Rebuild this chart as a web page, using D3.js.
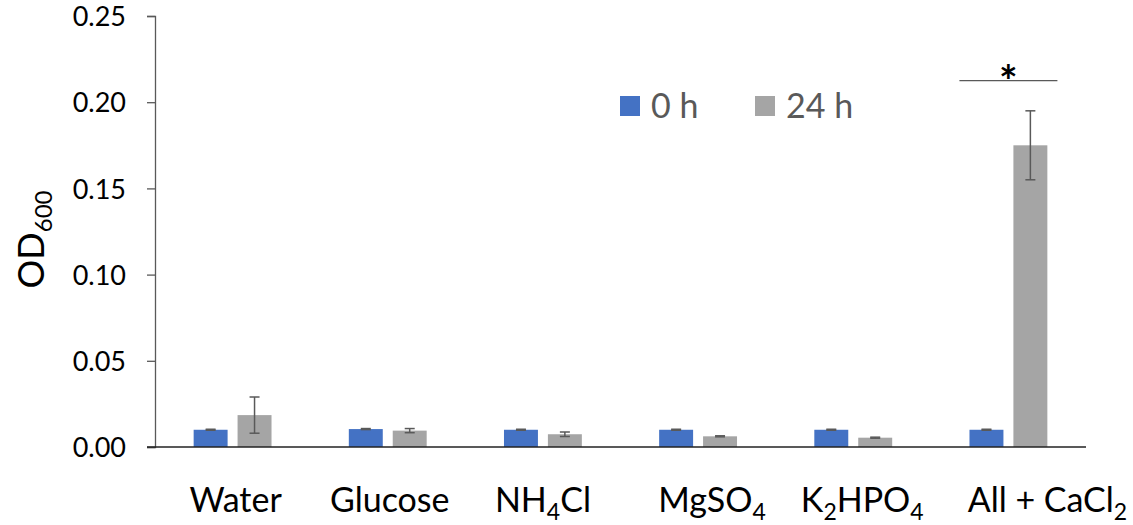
<!DOCTYPE html>
<html>
<head>
<meta charset="utf-8">
<script src="https://cdn.jsdelivr.net/npm/d3@7"></script>
<style>
  html, body { margin: 0; padding: 0; background: #fff; }
  svg { display: block; font-family: Lato, "Open Sans", sans-serif; }
</style>
</head>
<body>
<svg id="chart" width="1133" height="525"></svg>
<script>
// Treatments (label parts: [text, subscript?])
const categories = ["Water", "Glucose", "NH4Cl", "MgSO4", "K2HPO4", "All + CaCl2"];
const categoryLabels = [
  [["Water", false]],
  [["Glucose", false]],
  [["NH", false], ["4", true], ["Cl", false]],
  [["MgSO", false], ["4", true]],
  [["K", false], ["2", true], ["HPO", false], ["4", true]],
  [["All + CaCl", false], ["2", true]]
];
const seriesNames = ["0 h", "24 h"];
const values0h = [0.0100, 0.0104, 0.0100, 0.0100, 0.0100, 0.0100];
const errors0h = [0.0003, 0.0003, 0.0003, 0.0003, 0.0003, 0.0003];
const values24h = [0.0185, 0.0095, 0.0074, 0.0062, 0.0054, 0.175];
const errors24h = [0.0105, 0.0012, 0.0013, 0.0003, 0.0003, 0.020];
const yTicks = [0, 0.05, 0.10, 0.15, 0.20, 0.25];
const colors = ["#4472C4", "#A5A5A5"];

// Layout
const svg = d3.select("#chart");
const margin = { left: 155, right: 47, top: 16, bottom: 78 };
const width = 1133, height = 525;
const tickLen = 8;
// horizontal nudges of the category label boxes (px)
const labelNudge = [3, 2, 0, 14, 9, 39];

const x = d3.scaleBand().domain(categories)
  .range([margin.left, width - margin.right]).paddingInner(0).paddingOuter(0);
const xSub = d3.scaleBand().domain(seriesNames)
  .range([0, x.bandwidth()]).paddingInner(0.227).paddingOuter(0.88);
const y = d3.scaleLinear().domain([0, 0.25]).range([height - margin.bottom, margin.top]);

// Y axis
const yAxis = svg.append("g")
  .attr("transform", `translate(${margin.left},0)`)
  .call(d3.axisLeft(y).tickValues(yTicks).tickFormat(d3.format(".2f")).tickSize(tickLen).tickPadding(21));
yAxis.select(".domain").attr("stroke", "#595959").attr("stroke-width", 1.3);
yAxis.selectAll(".tick line").attr("stroke", "#595959").attr("stroke-width", 1.3);
yAxis.selectAll(".tick text").attr("font-size", 27).attr("fill", "#000")
  .attr("font-family", "Lato, sans-serif").attr("dy", "0.36em");

// Y axis title: OD600
const yTitle = svg.append("text")
  .attr("transform", `translate(44,${(y(0) + y(0.25)) / 2 + 8}) rotate(-90)`)
  .attr("text-anchor", "middle").attr("font-size", 36).attr("fill", "#000");
yTitle.append("tspan").text("OD");
yTitle.append("tspan").attr("font-size", 24).attr("dy", 8).text("600");

// Bars
const series = [
  { name: seriesNames[0], values: values0h, errors: errors0h, color: colors[0] },
  { name: seriesNames[1], values: values24h, errors: errors24h, color: colors[1] }
];

series.forEach(s => {
  const g = svg.append("g");
  g.selectAll("rect").data(categories).join("rect")
    .attr("x", (c) => x(c) + xSub(s.name))
    .attr("width", xSub.bandwidth())
    .attr("y", (c, i) => y(s.values[i]))
    .attr("height", (c, i) => y(0) - y(s.values[i]))
    .attr("fill", s.color);

  // Error bars
  const eb = g.selectAll("g.err").data(categories).join("g").attr("class", "err");
  const cx = (c) => x(c) + xSub(s.name) + xSub.bandwidth() / 2;
  eb.append("line")
    .attr("x1", cx).attr("x2", cx)
    .attr("y1", (c, i) => y(s.values[i] + s.errors[i]))
    .attr("y2", (c, i) => y(s.values[i] - s.errors[i]))
    .attr("stroke", "#595959").attr("stroke-width", 1.5);
  [1, -1].forEach(sign => {
    eb.append("line")
      .attr("x1", c => cx(c) - 5).attr("x2", c => cx(c) + 5)
      .attr("y1", (c, i) => y(s.values[i] + sign * s.errors[i]))
      .attr("y2", (c, i) => y(s.values[i] + sign * s.errors[i]))
      .attr("stroke", "#595959").attr("stroke-width", 1.5);
  });
});

// X axis line
svg.append("line")
  .attr("x1", margin.left - tickLen).attr("x2", width - margin.right)
  .attr("y1", y(0)).attr("y2", y(0))
  .attr("stroke", "#222").attr("stroke-width", 1.5);

// Category labels with subscripts
categoryLabels.forEach((parts, i) => {
  const t = svg.append("text")
    .attr("x", x(categories[i]) + x.bandwidth() / 2 + labelNudge[i])
    .attr("y", 512)
    .attr("text-anchor", "middle")
    .attr("font-size", 34).attr("fill", "#000");
  parts.forEach(([txt, sub], k) => {
    const prevSub = k > 0 && parts[k - 1][1];
    const ts = t.append("tspan").text(txt);
    if (sub) ts.attr("font-size", 23).attr("dy", 8);
    else if (prevSub) ts.attr("dy", -8);
  });
});

// Significance marker above the last group
const lastCat = categories[categories.length - 1];
const sigY = y(0.2125);
svg.append("line")
  .attr("x1", x(lastCat) + x.bandwidth() / 2 - 49)
  .attr("x2", x(lastCat) + x.bandwidth() / 2 + 49)
  .attr("y1", sigY).attr("y2", sigY)
  .attr("stroke", "#595959").attr("stroke-width", 1.3);
svg.append("text")
  .attr("x", x(lastCat) + x.bandwidth() / 2)
  .attr("y", sigY + 16)
  .attr("text-anchor", "middle").attr("font-size", 44).attr("font-weight", "bold")
  .attr("fill", "#000").text("*");

// Legend
const legend = svg.append("g").attr("transform", "translate(620,96)");
const legendX = [0, 135];
series.forEach((s, i) => {
  const lg = legend.append("g").attr("transform", `translate(${legendX[i]},0)`);
  lg.append("rect").attr("width", 20).attr("height", 20).attr("fill", s.color);
  lg.append("text").attr("x", 31).attr("y", 22)
    .attr("font-size", 34).attr("fill", "#595959").text(s.name);
});
</script>
</body>
</html>
